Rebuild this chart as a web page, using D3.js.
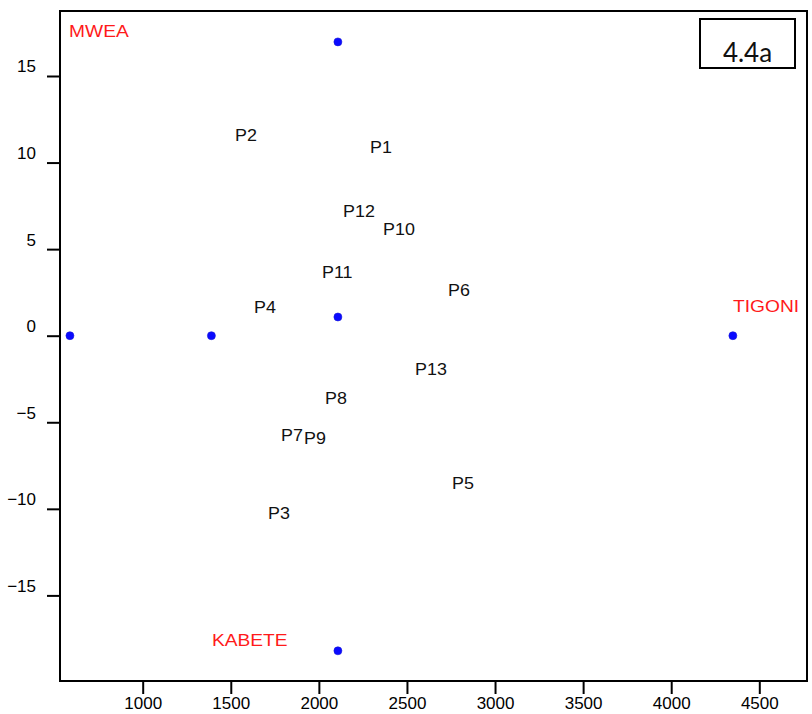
<!DOCTYPE html>
<html>
<head>
<meta charset="utf-8">
<script src="https://cdn.jsdelivr.net/npm/d3@7.9.0/dist/d3.min.js"></script>
<style>
  body { margin: 0; background: #fff; }
  svg { display: block; font-family: "Liberation Sans", Arial, sans-serif; }
</style>
</head>
<body>
<svg id="chart" width="812" height="714"></svg>
<script>
// blue points (site / centroid markers)
const pointX = [587, 1390, 2108, 2108, 2108, 4350];
const pointY = [0, 0, 16.97, 1.08, -18.2, 0];

// P labels (text placed at its anchor in data units)
const pLabels = ['P1', 'P2', 'P3', 'P4', 'P5', 'P6', 'P7', 'P8', 'P9', 'P10', 'P11', 'P12', 'P13'];
const pX = [2290, 1524, 1711, 1632, 2756, 2733, 1785, 2035, 1916, 2364, 2018, 2137, 2546];
const pY = [10.55, 11.26, -10.59, 1.31, -8.85, 2.29, -6.08, -3.95, -6.26, 5.82, 3.33, 6.86, -2.27];

// red site labels
const siteLabels = ['MWEA', 'TIGONI', 'KABETE'];
const siteX = [582, 4351, 1393];
const siteY = [17.25, 1.37, -17.92];

const xTicks = [1000, 1500, 2000, 2500, 3000, 3500, 4000, 4500];
const yTicks = [-15, -10, -5, 0, 5, 10, 15];
const panelTag = '4.4a';

const svg = d3.select('#chart');
const mLeft = 60, mRight = 807, mTop = 11, mBottom = 681;

const x = d3.scaleLinear().domain([530.6, 4770.8]).range([mLeft, mRight]);
const y = d3.scaleLinear().domain([-19.944, 18.754]).range([mBottom, mTop]);

// axes
const yAxis = svg.append('g')
  .attr('transform', `translate(${mLeft},0)`)
  .call(d3.axisLeft(y).tickValues(yTicks).tickSize(13).tickFormat(d3.format('d')));
yAxis.select('.domain').remove();
yAxis.selectAll('line').attr('stroke', '#000').attr('stroke-width', 2);
yAxis.selectAll('text')
  .attr('x', -24).attr('y', -4).attr('dy', null)
  .attr('font-size', 17).attr('fill', '#000')
  .style('font-family', '"Liberation Sans", Arial, sans-serif');

const xAxis = svg.append('g')
  .attr('transform', `translate(0,${mBottom})`)
  .call(d3.axisBottom(x).tickValues(xTicks).tickSize(13).tickFormat(d3.format('d')));
xAxis.select('.domain').remove();
xAxis.selectAll('line').attr('stroke', '#000').attr('stroke-width', 2);
xAxis.selectAll('text')
  .attr('y', 28).attr('dy', null)
  .attr('font-size', 17).attr('fill', '#000')
  .style('font-family', '"Liberation Sans", Arial, sans-serif');

// frame
svg.append('rect')
  .attr('x', mLeft).attr('y', mTop)
  .attr('width', mRight - mLeft).attr('height', mBottom - mTop)
  .attr('fill', 'none').attr('stroke', '#000').attr('stroke-width', 2);

// P labels (slightly wide glyphs in the original)
svg.append('g').selectAll('text')
  .data(pLabels)
  .join('text')
  .attr('transform', (d, i) => `translate(${x(pX[i])},${y(pY[i])}) scale(1.12,1)`)
  .attr('font-size', 16)
  .attr('fill', '#111')
  .text(d => d);

// site labels
svg.append('g').selectAll('text')
  .data(siteLabels)
  .join('text')
  .attr('transform', (d, i) => `translate(${x(siteX[i])},${y(siteY[i])}) scale(1.2,1)`)
  .attr('font-size', 16)
  .attr('fill', '#ff1a1a')
  .text(d => d);

// points
svg.append('g').selectAll('circle')
  .data(pointX)
  .join('circle')
  .attr('cx', d => x(d))
  .attr('cy', (d, i) => y(pointY[i]))
  .attr('r', 4)
  .attr('fill', '#0a0aff')
  .attr('stroke', '#1a1ad8')
  .attr('stroke-width', 0.6);

// panel tag box
const tag = svg.append('g');
tag.append('rect')
  .attr('x', 700).attr('y', 19).attr('width', 95).attr('height', 49)
  .attr('fill', '#fff').attr('stroke', '#000').attr('stroke-width', 2);
tag.append('text')
  .attr('x', 747.5).attr('y', 62)
  .attr('text-anchor', 'middle')
  .attr('font-size', 26)
  .style('font-family', 'Lato, "Open Sans", sans-serif')
  .attr('fill', '#111')
  .text(panelTag);
</script>
</body>
</html>
